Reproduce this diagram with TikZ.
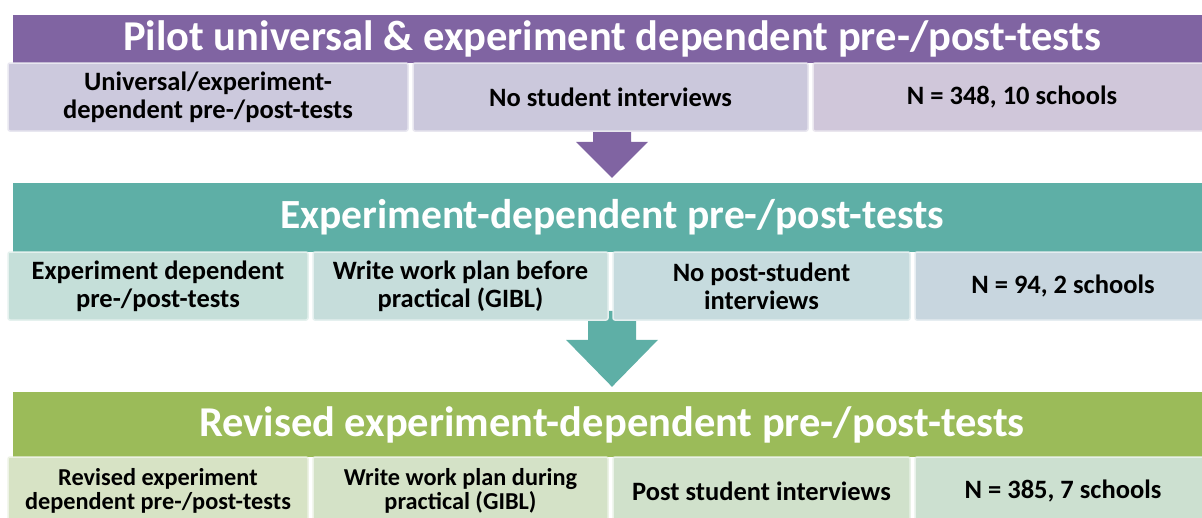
\documentclass[tikz,border=0pt]{standalone}
\usepackage{fontspec}
\setmainfont{Carlito}
\usetikzlibrary{calc,backgrounds}

\definecolor{pilotband}{HTML}{8064A2}
\definecolor{expband}{HTML}{5EAFA6}
\definecolor{revband}{HTML}{9BBB59}
\definecolor{pilotA}{HTML}{CCC9DD}
\definecolor{pilotB}{HTML}{CBC8DC}
\definecolor{pilotC}{HTML}{D0C7DA}
\definecolor{expA}{HTML}{C5DFD9}
\definecolor{expB}{HTML}{C6DDDB}
\definecolor{expC}{HTML}{C6DBDE}
\definecolor{expD}{HTML}{C8D6DF}
\definecolor{revA}{HTML}{D7E3C5}
\definecolor{revB}{HTML}{D4E2C7}
\definecolor{revC}{HTML}{D0E1CB}
\definecolor{revD}{HTML}{CCE0D0}

\tikzset{
  band/.style={fill=#1, text=white, inner sep=0pt, minimum width=1198pt,
    font=\bfseries\fontsize{42.5}{46}\selectfont},
  cell/.style={fill=#1, draw=#1!45!white, line width=1.5pt, rounded corners=2pt,
    inner sep=0pt, minimum height=68pt, align=center,
    font=\bfseries\fontsize{26.5}{28}\selectfont},
  small/.style={font=\bfseries\fontsize{24.3}{24}\selectfont},
}

% block arrow from a row box down to the next band
\newcommand{\flowarrow}[6]{%
  \fill[#1] ($(#2.south -| #3.north)+(-#4,-10)$)
    -- ($(#3.north)+(-#4,{-(#6+5)})$) -- ($(#3.north)+(-#5,{-(#6+5)})$)
    -- ($(#3.north)+(0,-5)$)
    -- ($(#3.north)+(#5,{-(#6+5)})$) -- ($(#3.north)+(#4,{-(#6+5)})$)
    -- ($(#2.south -| #3.north)+(#4,-10)$) -- cycle;}

\begin{document}
\begin{tikzpicture}[x=1pt,y=-1pt]
  \useasboundingbox (0,0) rectangle (1202,517);

  % pilot stage
  \node[band=pilotband, minimum height=48pt] (pilot) at (612,39)
    {Pilot universal \& experiment dependent pre-/post-tests};
  \node[cell=pilotA, minimum width=400pt] (p1) at (208,97)
    {Universal/experiment-\\dependent pre-/post-tests};
  \node[cell=pilotB, minimum width=395pt] (p2) at (610.5,97) {No student interviews};
  \node[cell=pilotC, minimum width=398pt] (p3) at (1012,97) {N = 348, 10 schools};

  % experiment-dependent stage
  \node[band=expband, minimum height=69pt, font=\bfseries\fontsize{41.5}{45}\selectfont]
    (exp) at (612,217.5) {Experiment-dependent pre-/post-tests};
  \node[cell=expA, minimum width=300pt] (e1) at (158,286)
    {Experiment dependent\\pre-/post-tests};
  \node[cell=expB, minimum width=295pt] (e2) at (460.5,286)
    {Write work plan before\\practical (GIBL)};
  \node[cell=expC, minimum width=297pt] (e3) at (761.5,286)
    {No post-student\\interviews};
  \node[cell=expD, minimum width=296pt] (e4) at (1063,286) {N = 94, 2 schools};

  % revised stage
  \node[band=revband, minimum height=65pt] (rev) at (612,424.5)
    {Revised experiment-dependent pre-/post-tests};
  \node[cell=revA, small, minimum width=300pt] (r1) at (158,491)
    {Revised experiment\\dependent pre-/post-tests};
  \node[cell=revB, small, minimum width=295pt] (r2) at (460.5,491)
    {Write work plan during\\practical (GIBL)};
  \node[cell=revC, minimum width=297pt] (r3) at (761.5,491) {Post student interviews};
  \node[cell=revD, minimum width=296pt] (r4) at (1063,491) {N = 385, 7 schools};

  \begin{scope}[on background layer]
    \flowarrow{pilotband}{p2}{exp}{19}{36}{36}
    \flowarrow{expband}{e3}{rev}{24}{46}{47}
  \end{scope}
\end{tikzpicture}
\end{document}
